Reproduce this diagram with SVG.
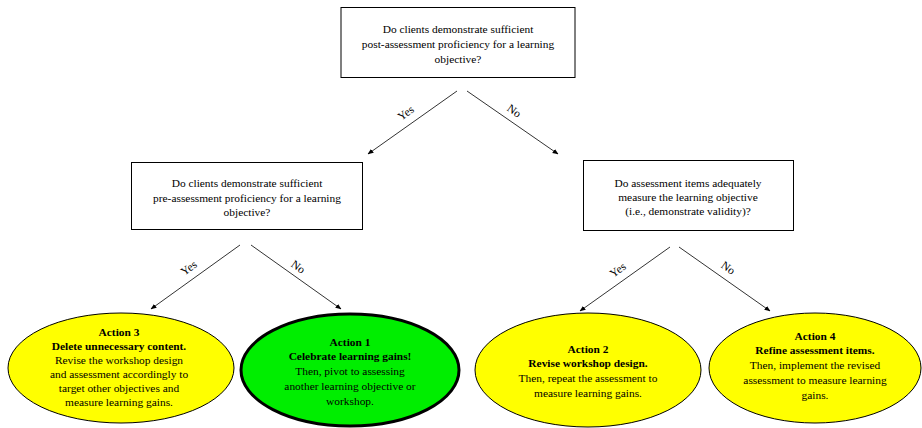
<svg xmlns="http://www.w3.org/2000/svg" width="922" height="428" viewBox="0 0 922 428">
<defs>
<style>
text{font-family:"Liberation Serif","Times New Roman",serif;font-size:11.4px;fill:#000;text-anchor:middle}
.b{font-weight:bold}
.box{fill:#fff;stroke:#000;stroke-width:1}
.yel{fill:#ffff00;stroke:#000;stroke-width:1}
.grn{fill:#00ee00;stroke:#000;stroke-width:3}
.con line{stroke:#333;stroke-width:1;marker-end:url(#ah)}
.lbl{font-size:11.5px}
</style>
<marker id="ah" viewBox="0 0 10 10" refX="9" refY="5" markerWidth="6" markerHeight="6" orient="auto" markerUnits="userSpaceOnUse">
<path d="M0,1 L10,5 L0,9 z" fill="#000"/>
</marker>
</defs>
<rect width="922" height="428" fill="#fff"/>
<g id="connectors" class="con">
<line x1="457" y1="91" x2="368" y2="154"/>
<line x1="467" y1="91" x2="558" y2="154"/>
<line x1="240" y1="245" x2="151" y2="309"/>
<line x1="251" y1="245" x2="341" y2="309"/>
<line x1="670" y1="247" x2="580" y2="311"/>
<line x1="679" y1="247" x2="770" y2="311"/>
<text class="lbl" transform="translate(408,116) rotate(-36)">Yes</text>
<text class="lbl" transform="translate(512,114) rotate(36)">No</text>
<text class="lbl" transform="translate(191,271) rotate(-36)">Yes</text>
<text class="lbl" transform="translate(296,270) rotate(36)">No</text>
<text class="lbl" transform="translate(620,273) rotate(-36)">Yes</text>
<text class="lbl" transform="translate(726,271) rotate(36)">No</text>
</g>
<g id="q1">
<rect class="box" x="341" y="7.5" width="234" height="70"/>
<text x="458" y="33">Do clients demonstrate sufficient</text>
<text x="458" y="48">post-assessment proficiency for a learning</text>
<text x="458" y="63">objective?</text>
</g>
<g id="q2">
<rect class="box" x="131.5" y="162.5" width="231" height="67"/>
<text x="247" y="187">Do clients demonstrate sufficient</text>
<text x="247" y="202">pre-assessment proficiency for a learning</text>
<text x="247" y="216">objective?</text>
</g>
<g id="q3">
<rect class="box" x="583.5" y="160.5" width="210" height="70"/>
<text x="688" y="187">Do assessment items adequately</text>
<text x="688" y="201">measure the learning objective</text>
<text x="688" y="215">(i.e., demonstrate validity)?</text>
</g>
<g id="a3">
<ellipse class="yel" cx="121" cy="368" rx="113" ry="55"/>
<text class="b" x="119" y="336">Action 3</text>
<text class="b" x="119" y="350">Delete unnecessary content.</text>
<text x="119" y="364">Revise the workshop design</text>
<text x="119" y="378">and assessment accordingly to</text>
<text x="119" y="392">target other objectives and</text>
<text x="119" y="406">measure learning gains.</text>
</g>
<g id="a1">
<ellipse class="grn" cx="350" cy="370" rx="109" ry="56"/>
<text class="b" x="350" y="346">Action 1</text>
<text class="b" x="350" y="360">Celebrate learning gains!</text>
<text x="350" y="375">Then, pivot to assessing</text>
<text x="350" y="390">another learning objective or</text>
<text x="350" y="405">workshop.</text>
</g>
<g id="a2">
<ellipse class="yel" cx="588" cy="370" rx="113" ry="57"/>
<text class="b" x="588" y="353">Action 2</text>
<text class="b" x="588" y="367">Revise workshop design.</text>
<text x="588" y="382">Then, repeat the assessment to</text>
<text x="588" y="397">measure learning gains.</text>
</g>
<g id="a4">
<ellipse class="yel" cx="815" cy="368" rx="106" ry="55"/>
<text class="b" x="815" y="340">Action 4</text>
<text class="b" x="815" y="354">Refine assessment items.</text>
<text x="815" y="369">Then, implement the revised</text>
<text x="815" y="384">assessment to measure learning</text>
<text x="815" y="399">gains.</text>
</g>
</svg>
